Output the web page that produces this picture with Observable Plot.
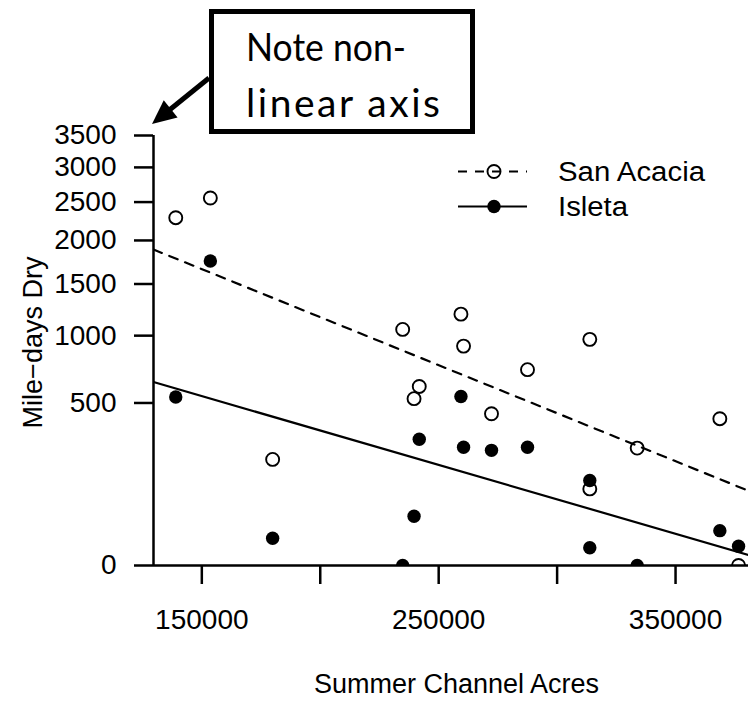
<!DOCTYPE html>
<html>
<head>
<meta charset="utf-8">
<script src="https://cdn.jsdelivr.net/npm/d3@7"></script>
<script src="https://cdn.jsdelivr.net/npm/@observablehq/plot@0.6"></script>
<style>
  html, body { margin: 0; padding: 0; background: #fff; }
  #chart svg { display: block; }
</style>
</head>
<body>
<div id="chart"></div>
<script>
// One entry per year: summer channel acreage and the mile-days of dry
// river recorded in the San Acacia and Isleta reaches.
const channelAcres = [139000, 153600, 179900, 234800, 239600, 241800, 259400, 260500, 272300, 287500, 313800, 313800, 333800, 368700, 376600];
const sanAcaciaMileDays = [2290, 2556, 213, 1055, 527, 607, 1196, 911, 436, 726, 968, 111, 261, 408, 0];
const isletaMileDays = [537, 1755, 14, 0, 46, 302, 541, 265, 251, 265, 137, 6, 0, 23, 7];

const seriesNames = ["San Acacia", "Isleta"];
const yTicks = [0, 500, 1000, 1500, 2000, 2500, 3000, 3500];
const xTicks = [150000, 200000, 250000, 300000, 350000];
const xLabelled = [150000, 250000, 350000];

const xDomain = [129600, 380800];
const yDomain = [0, 3500];

const rows = channelAcres.map((x, i) => ({x, san: sanAcaciaMileDays[i], isleta: isletaMileDays[i]}));

// Least-squares fit of sqrt(mile-days) against acreage, drawn across the x range.
function sqrtFit(xs, ys) {
  const s = ys.map(Math.sqrt);
  const mx = d3.mean(xs), ms = d3.mean(s);
  const b = d3.sum(xs, (x, i) => (x - mx) * (s[i] - ms)) / d3.sum(xs, x => (x - mx) ** 2);
  const a = ms - b * mx;
  return xDomain.map(x => ({x, y: Math.max(0, a + b * x) ** 2}));
}
const sanFit = sqrtFit(channelAcres, sanAcaciaMileDays);
const isletaFit = sqrtFit(channelAcres, isletaMileDays);

const font = "'Liberation Sans', Arial, sans-serif";

const chart = Plot.plot({
  width: 748,
  height: 707,
  marginLeft: 153,
  marginRight: 0,
  marginTop: 135,
  marginBottom: 142,
  style: {fontFamily: font, fontSize: "28px", color: "#000", background: "#fff", overflow: "hidden"},
  x: {domain: xDomain},
  y: {type: "sqrt", domain: yDomain},
  marks: [
    Plot.line(sanFit, {x: "x", y: "y", stroke: "#000", strokeWidth: 2.2, strokeDasharray: "9,8", clip: true}),
    Plot.line(isletaFit, {x: "x", y: "y", stroke: "#000", strokeWidth: 2.2, clip: true}),
    Plot.dot(rows, {x: "x", y: "san", r: 6.5, fill: "none", stroke: "#000", strokeWidth: 1.9, clip: true}),
    Plot.dot(rows, {x: "x", y: "isleta", r: 6.7, fill: "#000", stroke: "none", clip: true}),
    Plot.ruleX([xDomain[0]], {y1: yDomain[0], y2: yDomain[1], stroke: "#000", strokeWidth: 2.5}),
    Plot.ruleY([0], {stroke: "#000", strokeWidth: 2.5}),
    Plot.axisY({ticks: yTicks, tickSize: 19, tickPadding: 18, tickFormat: d => String(d), label: null, strokeWidth: 2.5}),
    Plot.axisX({ticks: xTicks, tickSize: 19, tickPadding: 25, tickFormat: d => xLabelled.includes(d) ? String(d) : "", label: null, strokeWidth: 2.5}),
    Plot.text(["Mile\u2212days Dry"], {frameAnchor: "left", textAnchor: "middle", rotate: -90, dx: -120, dy: -8, fontSize: 27, fill: "#000", ariaLabel: "y-title"}),
    Plot.text(["Summer Channel Acres"], {frameAnchor: "bottom", textAnchor: "middle", dx: 5.5, dy: 127, fontSize: 27, fill: "#000", ariaLabel: "x-title"})
  ]
});

document.getElementById("chart").appendChild(chart);

const svg = d3.select(chart);
svg.select('g[aria-label="x-title"] text').attr("textLength", 312).attr("lengthAdjust", "spacingAndGlyphs");

// Legend: line style plus point symbol for each reach.
const legend = svg.append("g").attr("font-family", font).attr("font-size", 27).attr("text-anchor", "start");
const legendRows = [
  {name: seriesNames[0], y: 171.5, dash: "9,8", filled: false, width: 147},
  {name: seriesNames[1], y: 206.5, dash: null, filled: true, width: 70}
];
for (const row of legendRows) {
  legend.append("line")
    .attr("x1", 458).attr("x2", 527).attr("y1", row.y).attr("y2", row.y)
    .attr("stroke", "#000").attr("stroke-width", 2.2)
    .attr("stroke-dasharray", row.dash);
  legend.append("circle")
    .attr("cx", 494).attr("cy", row.y).attr("r", row.filled ? 6.7 : 6.5)
    .attr("fill", row.filled ? "#000" : "none")
    .attr("stroke", row.filled ? "none" : "#000").attr("stroke-width", 1.9);
  legend.append("text")
    .attr("x", 558).attr("y", row.y).attr("dy", "0.35em")
    .attr("textLength", row.width).attr("lengthAdjust", "spacingAndGlyphs")
    .attr("fill", "#000").text(row.name);
}

// Callout box with an arrow pointing at the square-root y axis.
const note = svg.append("g");
note.append("rect")
  .attr("x", 211.5).attr("y", 11.5).attr("width", 261).attr("height", 120)
  .attr("fill", "#fff").attr("stroke", "#000").attr("stroke-width", 5);
const noteText = note.append("text")
  .attr("font-family", "Lato, 'Open Sans', sans-serif").attr("font-size", 39)
  .attr("text-anchor", "start").attr("fill", "#000");
noteText.append("tspan").attr("x", 246).attr("y", 61)
  .attr("textLength", 160).attr("lengthAdjust", "spacingAndGlyphs").text("Note non-");
noteText.append("tspan").attr("x", 246).attr("y", 117)
  .attr("textLength", 194).attr("lengthAdjust", "spacing").text("linear axis");

const tail = [209, 78], tip = [152, 124];
const len = Math.hypot(tip[0] - tail[0], tip[1] - tail[1]);
const ux = (tip[0] - tail[0]) / len, uy = (tip[1] - tail[1]) / len;
const headLen = 24, headHalf = 11;
const base = [tip[0] - ux * headLen, tip[1] - uy * headLen];
note.append("line")
  .attr("x1", tail[0]).attr("y1", tail[1]).attr("x2", base[0] + ux * 2).attr("y2", base[1] + uy * 2)
  .attr("stroke", "#000").attr("stroke-width", 5);
note.append("path")
  .attr("d", `M${tip[0]},${tip[1]}L${base[0] - uy * headHalf},${base[1] + ux * headHalf}L${base[0] + uy * headHalf},${base[1] - ux * headHalf}Z`)
  .attr("fill", "#000");
</script>
</body>
</html>
